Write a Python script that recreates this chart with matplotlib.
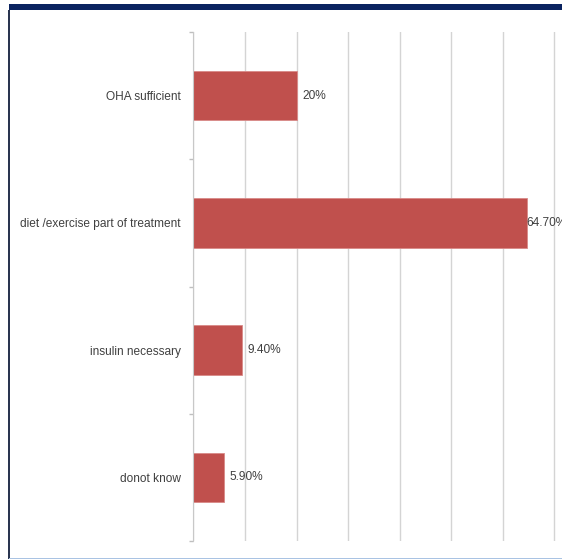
import numpy as np
import matplotlib
matplotlib.use("Agg")
from matplotlib import pyplot as plt
from matplotlib.patches import Rectangle

# data, top to bottom as shown
categories = ["OHA sufficient", "diet /exercise part of treatment",
              "insulin necessary", "donot know"]
values = [20, 64.7, 9.4, 5.9]
value_labels = ["20%", "64.70%", "9.40%", "5.90%"]

plt.rcParams['font.family'] = ['Liberation Sans', 'DejaVu Sans']

fig = plt.figure(figsize=(5.62, 5.60), dpi=100)
fig.patch.set_facecolor("white")

# slide-style frame: navy band on top, thin lines left and bottom
fig.patches.append(Rectangle((9/562, 1-10/560), 1, 6/560, transform=fig.transFigure,
                             facecolor="#0b2360", edgecolor="none", zorder=0))
fig.patches.append(Rectangle((8/562, 1/560), 1.5/562, 1-11/560, transform=fig.transFigure,
                             facecolor="#2a3550", edgecolor="none", zorder=0))
fig.patches.append(Rectangle((9/562, 1/560), 1, 1.5/560, transform=fig.transFigure,
                             facecolor="#a9c3e3", edgecolor="none", zorder=0))

# 51.5 px per 10 %, x=0 at 193.5 px
ax = fig.add_axes([193.5/562, 1-541/560, 70.4*5.15/562, (541-32)/560])
ax.set_facecolor("none")

y = np.arange(len(categories))
ax.barh(y, values, height=0.39, color="#c0504d", edgecolor="#d98a88", linewidth=0.6, zorder=3)

ax.set_xlim(0, 70.4)
ax.set_ylim(len(categories)-0.5, -0.5)
ax.set_xticks(np.arange(0, 71, 10))
ax.tick_params(axis="x", length=0, labelbottom=False)
ax.grid(axis="x", color="#d4d4d4", linewidth=1.0, zorder=0)

ax.set_yticks(y)
ax.set_yticklabels(categories, fontsize=8.6, color="#404040")
ax.tick_params(axis="y", which="major", length=0, pad=9)
ax.set_yticks(np.arange(-0.5, len(categories)), minor=True)
ax.tick_params(axis="y", which="minor", length=3, color="#bfbfbf", width=1)

for s in ["top", "right", "bottom"]:
    ax.spines[s].set_visible(False)
ax.spines["left"].set_color("#c8c8c8")
ax.spines["left"].set_zorder(4)

for yi, v, lab in zip(y, values, value_labels):
    off = 0 if v > 60 else 6
    ax.annotate(lab, (v, yi), xytext=(off, 0), textcoords="offset pixels",
                ha="left", va="center", fontsize=8.6, color="#404040",
                annotation_clip=False)

fig.savefig("out.png", dpi=100)
